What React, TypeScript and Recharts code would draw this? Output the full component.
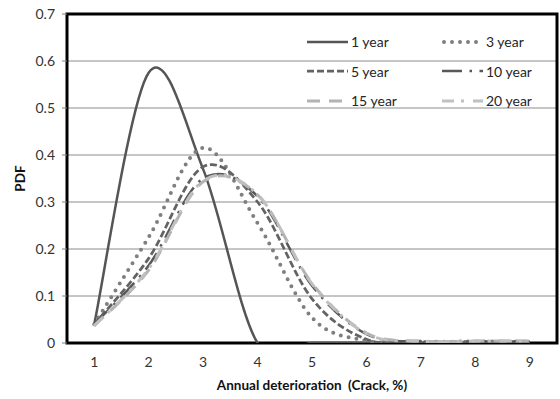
import {
  LineChart, Line, XAxis, YAxis, CartesianGrid, Legend, ReferenceArea,
} from "recharts";

// x positions (annual deterioration, crack %)
const xValues = [1, 2, 3, 4, 5, 6, 7, 8, 9];
const yTicks = [0, 0.1, 0.2, 0.3, 0.4, 0.5, 0.6, 0.7];

// PDF values per service age
const year1 = [0.04, 0.575, 0.37, 0, 0, 0, 0, 0, 0];
const year3 = [0.04, 0.225, 0.415, 0.255, 0.054, 0.005, 0.003, 0.003, 0.003];
const year5 = [0.04, 0.18, 0.375, 0.3, 0.094, 0.008, 0.003, 0.003, 0.003];
const year10 = [0.04, 0.165, 0.35, 0.312, 0.122, 0.019, 0.003, 0.003, 0.003];
const year15 = [0.037, 0.155, 0.343, 0.315, 0.127, 0.021, 0.004, 0.004, 0.004];
const year20 = [0.036, 0.158, 0.345, 0.316, 0.126, 0.02, 0.004, 0.004, 0.004];

const data = xValues.map((x, i) => ({
  x,
  y1: year1[i],
  y3: year3[i],
  y5: year5[i],
  y10: year10[i],
  y15: year15[i],
  y20: year20[i],
}));

const SERIES = [
  { key: "y1", label: "1 year", color: "#555555", width: 2.5, dash: undefined, cap: "butt" },
  { key: "y3", label: "3 year", color: "#7f7f7f", width: 4, dash: "0 8", cap: "round" },
  { key: "y5", label: "5 year", color: "#636363", width: 2.75, dash: "7 3", cap: "butt" },
  { key: "y10", label: "10 year", color: "#585858", width: 2.5, dash: "20 7.5 2.5 7.5", cap: "butt" },
  { key: "y15", label: "15 year", color: "#b3b3b3", width: 3, dash: "13 9", cap: "butt" },
  { key: "y20", label: "20 year", color: "#c0c0c0", width: 3, dash: "12 7 3 9", cap: "butt" },
];

const FONT = "Lato, 'Open Sans', sans-serif";

// spreadsheet-style smoothing: cubic bezier through the points,
// control points at 1/6 of the neighbour span (Catmull-Rom)
function smoothCurve(context: any) {
  let pts: number[][] = [];
  return {
    areaStart() {},
    areaEnd() {},
    lineStart() {
      pts = [];
    },
    point(x: number, y: number) {
      pts.push([+x, +y]);
    },
    lineEnd() {
      const n = pts.length;
      if (!n) return;
      context.moveTo(pts[0][0], pts[0][1]);
      for (let i = 0; i < n - 1; i++) {
        const p0 = pts[Math.max(i - 1, 0)];
        const p1 = pts[i];
        const p2 = pts[i + 1];
        const p3 = pts[Math.min(i + 2, n - 1)];
        context.bezierCurveTo(
          p1[0] + (p2[0] - p0[0]) / 6,
          p1[1] + (p2[1] - p0[1]) / 6,
          p2[0] - (p3[0] - p1[0]) / 6,
          p2[1] - (p3[1] - p1[1]) / 6,
          p2[0],
          p2[1],
        );
      }
    },
  };
}

function LegendGrid() {
  return (
    <div
      style={{
        display: "grid",
        gridTemplateColumns: "135px 115px",
        gridAutoRows: "29.5px",
        fontFamily: FONT,
        fontSize: 14,
        color: "#262626",
      }}
    >
      {SERIES.map((s) => (
        <div key={s.key} style={{ display: "flex", alignItems: "center" }}>
          <svg width={41} height={10} style={{ marginRight: 3 }}>
            <line
              x1={s.cap === "round" ? 2 : 0}
              y1={5}
              x2={41}
              y2={5}
              stroke={s.color}
              strokeWidth={s.width}
              strokeDasharray={s.dash}
              strokeLinecap={s.cap as any}
            />
          </svg>
          <span>{s.label}</span>
        </div>
      ))}
    </div>
  );
}

export default function App() {
  return (
    <div style={{ position: "absolute", left: 0, top: 0, width: 560, height: 399, background: "#fff" }}>
      <LineChart width={560} height={399} data={data} margin={{ top: 14, right: 3, bottom: 0, left: 0 }}>
        <CartesianGrid vertical={false} stroke="#8c8c8c" strokeWidth={1} />
        <XAxis
          dataKey="x"
          type="number"
          domain={[0.5, 9.5]}
          ticks={xValues}
          height={56}
          axisLine={false}
          tickLine={false}
          tickSize={0}
          tickMargin={14}
          tick={{ fontSize: 14, fill: "#333", fontFamily: FONT }}
          label={{
            value: "Annual deterioration\u00A0 (Crack, %)",
            position: "insideBottom",
            offset: 9,
            style: { fontSize: 13.5, fontWeight: 700, fill: "#111", fontFamily: FONT },
          }}
        />
        <YAxis
          type="number"
          domain={[0, 0.7]}
          ticks={yTicks}
          allowDataOverflow
          width={67}
          axisLine={false}
          tickSize={5}
          tickMargin={7}
          tickLine={{ stroke: "#808080" }}
          tick={{ fontSize: 14, fill: "#333", fontFamily: FONT }}
          label={{
            value: "PDF",
            angle: -90,
            position: "insideLeft",
            offset: 20,
            style: { fontSize: 13.5, fontWeight: 700, fill: "#111", fontFamily: FONT, textAnchor: "middle" },
          }}
        />
        <Legend
          layout="horizontal"
          align="center"
          verticalAlign="middle"
          wrapperStyle={{ top: 27, left: 307, width: 250 }}
          content={() => <LegendGrid />}
        />
        {SERIES.map((s) => (
          <Line
            key={s.key}
            dataKey={s.key}
            type={smoothCurve as any}
            stroke={s.color}
            strokeWidth={s.width}
            strokeDasharray={s.dash}
            strokeLinecap={s.cap as any}
            dot={false}
            activeDot={false}
            isAnimationActive={false}
          />
        ))}
        <ReferenceArea x1={0.5} x2={9.5} y1={0} y2={0.7} fill="none" stroke="#000" strokeWidth={3} />
      </LineChart>
    </div>
  );
}
